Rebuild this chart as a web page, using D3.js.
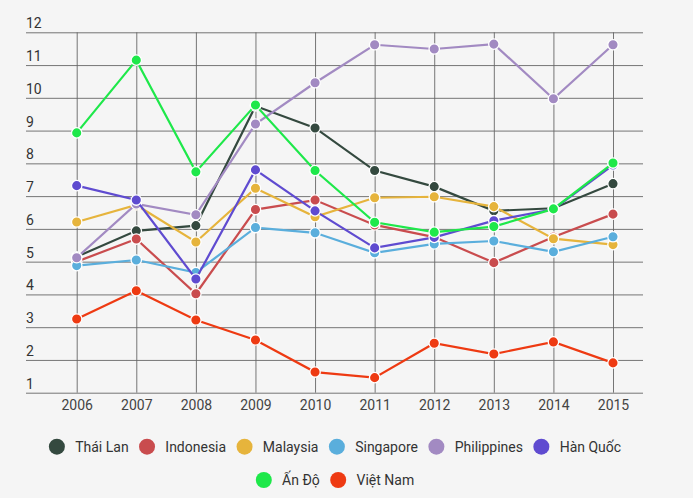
<!DOCTYPE html>
<html>
<head>
<meta charset="utf-8">
<script src="https://cdn.jsdelivr.net/npm/d3@7"></script>
<style>
  body { margin: 0; background: #f5f5f5; }
  svg { display: block; font-family: Roboto, sans-serif; }
</style>
</head>
<body>
<div id="chart-area"></div>
<script>
// data
const years = ["2006", "2007", "2008", "2009", "2010", "2011", "2012", "2013", "2014", "2015"];
const yTicks = [1, 2, 3, 4, 5, 6, 7, 8, 9, 10, 11, 12];

const seriesNames = ["Thái Lan", "Indonesia", "Malaysia", "Singapore", "Philippines", "Hàn Quốc", "Ấn Độ", "Việt Nam"];
const seriesColors = ["#34493f", "#c94c4e", "#e6b43c", "#5aaedc", "#a28ac2", "#5f4bd0", "#1ee84a", "#ee3a12"];

const thaiLan     = [5.15, 5.94, 6.10, 9.75, 9.08, 7.78, 7.29, 6.55, 6.63, 7.38];
const indonesia   = [5.00, 5.69, 4.02, 6.59, 6.88, 6.12, 5.75, 4.97, 5.75, 6.45];
const malaysia    = [6.21, 6.73, 5.60, 7.24, 6.37, 6.95, 6.98, 6.68, 5.70, 5.52];
const singapore   = [4.88, 5.05, 4.67, 6.04, 5.88, 5.27, 5.54, 5.63, 5.30, 5.76];
const philippines = [5.12, 6.76, 6.43, 9.20, 10.46, 11.62, 11.49, 11.64, 9.97, 11.62];
const hanQuoc     = [7.32, 6.88, 4.47, 7.80, 6.55, 5.42, 5.74, 6.25, 6.60, 7.95];
const anDo        = [8.93, 11.15, 7.74, 9.78, 7.78, 6.20, 5.90, 6.07, 6.61, 8.01];
const vietNam     = [3.25, 4.11, 3.22, 2.61, 1.63, 1.46, 2.51, 2.18, 2.55, 1.91];

const seriesValues = [thaiLan, indonesia, malaysia, singapore, philippines, hanQuoc, anDo, vietNam];

const width = 693, height = 498;
const plot = {left: 26, right: 643, top: 32.3, bottom: 392.7};

const svg = d3.select("#chart-area")
  .append("svg")
    .attr("width", width)
    .attr("height", height);

svg.append("rect")
  .attr("width", width)
  .attr("height", height)
  .attr("fill", "#f5f5f5");

// scales
const x = d3.scalePoint()
  .domain(years)
  .range([76.7, 613]);

const y = d3.scaleLinear()
  .domain([1, 12])
  .range([plot.bottom, plot.top]);

// horizontal grid + y labels
const yAxis = svg.append("g")
  .attr("transform", `translate(${plot.left},0)`)
  .call(d3.axisLeft(y).tickValues(yTicks).tickSize(-(plot.right - plot.left)).tickFormat(d3.format("d")));
yAxis.select(".domain").remove();
yAxis.selectAll(".tick line").attr("stroke", "#666").attr("stroke-width", 0.9);
yAxis.selectAll(".tick text")
  .attr("x", 0)
  .attr("dy", -4.5)
  .attr("text-anchor", "start")
  .attr("fill", "#333")
  .style("font-size", "14px")
  .style("font-family", "Roboto, sans-serif");

// vertical grid + x labels
const xAxis = svg.append("g")
  .attr("transform", `translate(0,${plot.bottom})`)
  .call(d3.axisBottom(x).tickSize(-(plot.bottom - plot.top)).tickPadding(0));
xAxis.select(".domain").remove();
xAxis.selectAll(".tick line").attr("stroke", "#666").attr("stroke-width", 0.9);
xAxis.selectAll(".tick text")
  .attr("y", 17)
  .attr("dy", 0)
  .attr("fill", "#444")
  .style("font-size", "14px")
  .style("font-family", "Roboto, sans-serif");

// lines
const line = d3.line()
  .x((d, i) => x(years[i]))
  .y(d => y(d));

const series = seriesNames.map((name, k) => ({name: name, color: seriesColors[k], values: seriesValues[k]}));

const groups = svg.selectAll(".series")
  .data(series)
  .enter()
  .append("g")
    .attr("class", "series");

groups.append("path")
  .attr("d", d => line(d.values))
  .attr("fill", "none")
  .attr("stroke", d => d.color)
  .attr("stroke-width", 2.2);

groups.selectAll("circle")
  .data(d => d.values.map(v => ({v: v, color: d.color})))
  .enter()
  .append("circle")
    .attr("cx", (d, i) => x(years[i]))
    .attr("cy", d => y(d.v))
    .attr("r", 5.2)
    .attr("fill", d => d.color)
    .attr("stroke", "#fff")
    .attr("stroke-width", 1.3);

// legend (two centred rows)
const legendRows = [series.slice(0, 6), series.slice(6)];
const legendY = [446.7, 480];
const legendCenter = 335;

legendRows.forEach((row, r) => {
  const g = svg.append("g");
  let cursor = 0;
  row.forEach((s, i) => {
    const item = g.append("g").attr("transform", `translate(${cursor},0)`);
    item.append("circle")
      .attr("cx", 8)
      .attr("cy", 0)
      .attr("r", 8)
      .attr("fill", s.color);
    const t = item.append("text")
      .attr("x", 26.3)
      .attr("y", 5)
      .attr("fill", "#333")
      .style("font-size", "14px")
      .style("font-family", "Roboto, sans-serif")
      .text(s.name);
    const w = t.node().getComputedTextLength();
    cursor += 26.3 + w + (i < row.length - 1 ? 10.4 : 0);
  });
  g.attr("transform", `translate(${legendCenter - cursor / 2},${legendY[r]})`);
});
</script>
</body>
</html>
